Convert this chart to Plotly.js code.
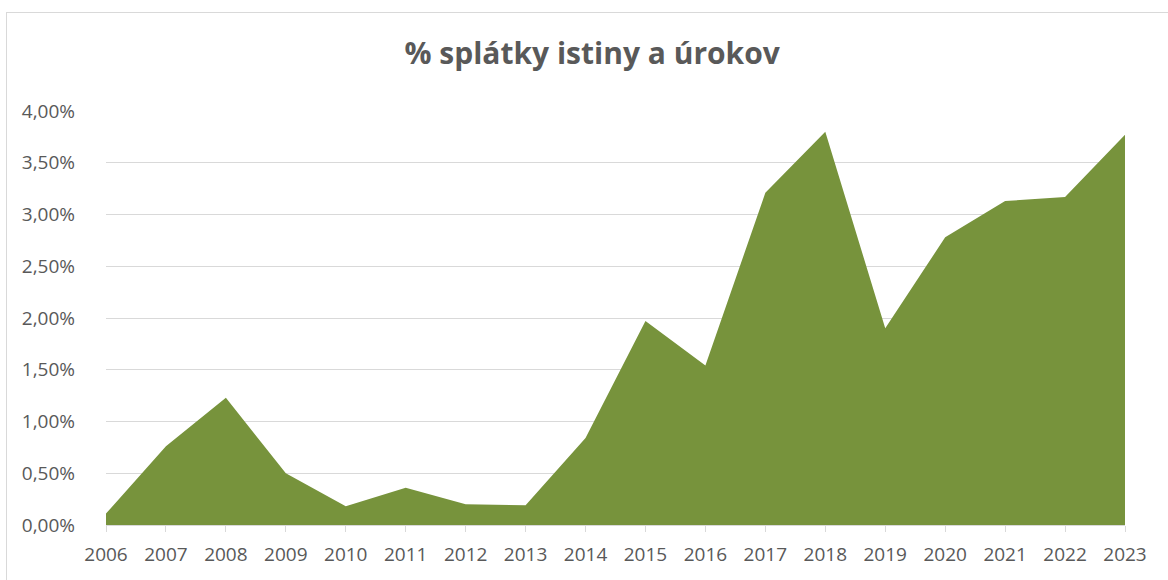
<!DOCTYPE html>
<html>
<head>
<meta charset="utf-8">
<script src="https://cdn.plot.ly/plotly-3.0.1.min.js"></script>
<style>
  html, body { margin: 0; padding: 0; background: #fff; overflow: hidden; }
  #chart { width: 1168px; height: 580px; }
  #frame { position: absolute; left: 6px; top: 12px; width: 1200px; height: 620px;
           border: 1px solid #d9d9d9; pointer-events: none; }
</style>
</head>
<body>
<div id="chart"></div>
<div id="frame"></div>
<script>
const years = ["2006","2007","2008","2009","2010","2011","2012","2013","2014","2015","2016","2017","2018","2019","2020","2021","2022","2023"];
const pctValues = [0.11, 0.76, 1.23, 0.50, 0.18, 0.36, 0.20, 0.19, 0.84, 1.97, 1.54, 3.21, 3.80, 1.90, 2.78, 3.13, 3.17, 3.77];
const yTicks = [0, 0.5, 1, 1.5, 2, 2.5, 3, 3.5, 4];
const yTickText = yTicks.map(v => v.toFixed(2).replace(".", ",") + "%");
const chartTitle = "% splátky istiny a úrokov";

const trace = {
  type: "scatter",
  mode: "lines",
  x: years,
  y: pctValues,
  fill: "tozeroy",
  fillcolor: "#77933C",
  line: { color: "#77933C", width: 0 },
  hoverinfo: "x+y"
};

const layout = {
  width: 1168,
  height: 580,
  margin: { l: 106, r: 43, t: 111, b: 55 },
  paper_bgcolor: "#ffffff",
  plot_bgcolor: "#ffffff",
  showlegend: false,
  title: {
    text: "<b>" + chartTitle + "</b>",
    x: 0.507, xanchor: "center",
    y: 0.907, yanchor: "middle",
    font: { family: "Open Sans, Noto Sans, sans-serif", size: 30, color: "#595959" }
  },
  xaxis: {
    type: "category",
    range: [0, years.length - 1],
    showgrid: false,
    showline: true,
    linecolor: "#d9d9d9",
    linewidth: 1,
    ticks: "outside",
    ticklen: 6,
    tickcolor: "#d9d9d9",
    ticklabelstandoff: 6,
    tickfont: { family: "Open Sans, sans-serif", size: 19, color: "#595959" },
    fixedrange: true,
    layer: "above traces"
  },
  yaxis: {
    range: [0, 4],
    tickvals: yTicks,
    ticktext: yTickText,
    showgrid: true,
    gridcolor: "#d9d9d9",
    gridwidth: 1,
    zeroline: false,
    showline: false,
    ticks: "",
    ticklabelstandoff: 30,
    tickfont: { family: "Open Sans, sans-serif", size: 19, color: "#595959" },
    fixedrange: true
  }
};

Plotly.newPlot("chart", [trace], layout, { displayModeBar: false, staticPlot: true });
</script>
</body>
</html>
